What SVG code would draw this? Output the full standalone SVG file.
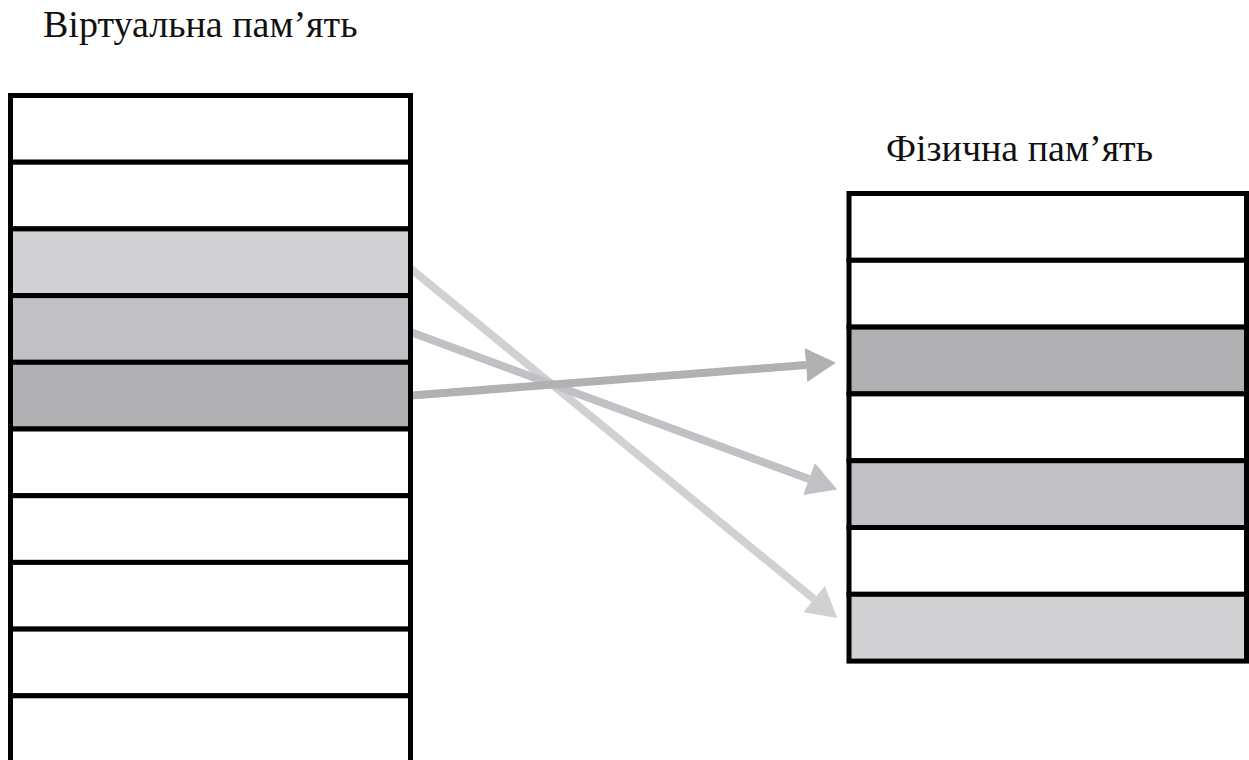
<svg xmlns="http://www.w3.org/2000/svg" width="1249" height="760" viewBox="0 0 1249 760">
  <style>
    .title { font-family: 'Liberation Serif', 'Times New Roman', 'DejaVu Serif', serif; font-size: 38px; fill: #111; }
    .cell { stroke: #000; stroke-width: 5; }
    .empty { fill: #fff; }
    .g1 { fill: #d1d1d3; }
    .g2 { fill: #c1c1c5; }
    .g3 { fill: #b1b1b3; }
    .link { fill: none; stroke-width: 8; stroke-linecap: butt; }
  </style>
  <defs>
    <marker id="headLight" markerUnits="userSpaceOnUse" markerWidth="30" markerHeight="34" refX="0" refY="17" orient="auto">
      <path d="M0,0 L30,17 L0,34 z" fill="#d1d1d3"/>
    </marker>
    <marker id="headMid" markerUnits="userSpaceOnUse" markerWidth="30" markerHeight="34" refX="0" refY="17" orient="auto">
      <path d="M0,0 L30,17 L0,34 z" fill="#c1c1c5"/>
    </marker>
    <marker id="headDark" markerUnits="userSpaceOnUse" markerWidth="30" markerHeight="34" refX="0" refY="17" orient="auto">
      <path d="M0,0 L30,17 L0,34 z" fill="#b1b1b3"/>
    </marker>
  </defs>

  <rect width="1249" height="760" fill="#fff"/>

  <g id="virtual-title">
    <text class="title" x="43" y="37">Віртуальна пам’ять</text>
  </g>
  <g id="physical-title">
    <text class="title" x="886" y="161">Фізична пам’ять</text>
  </g>

  <!-- page mappings: virtual page -> physical frame -->
  <g id="connectors">
    <line class="link" x1="405" y1="264" x2="814" y2="599" stroke="#d1d1d3" marker-end="url(#headLight)"/>
    <line class="link" x1="405" y1="330" x2="809" y2="479" stroke="#c1c1c5" marker-end="url(#headMid)"/>
    <line class="link" x1="405" y1="396" x2="806" y2="365" stroke="#b1b1b3" marker-end="url(#headDark)"/>
  </g>

  <!-- virtual memory: column of pages -->
  <g id="virtual-memory">
    <rect class="cell empty" x="10.5" y="95.5" width="400" height="66.7"/>
    <rect class="cell empty" x="10.5" y="162.2" width="400" height="66.7"/>
    <rect class="cell g1" x="10.5" y="228.9" width="400" height="66.7"/>
    <rect class="cell g2" x="10.5" y="295.6" width="400" height="66.7"/>
    <rect class="cell g3" x="10.5" y="362.3" width="400" height="66.7"/>
    <rect class="cell empty" x="10.5" y="429" width="400" height="66.7"/>
    <rect class="cell empty" x="10.5" y="495.7" width="400" height="66.7"/>
    <rect class="cell empty" x="10.5" y="562.4" width="400" height="66.7"/>
    <rect class="cell empty" x="10.5" y="629.1" width="400" height="66.7"/>
    <rect class="cell empty" x="10.5" y="695.8" width="400" height="66.7"/>
  </g>

  <!-- physical memory: column of frames -->
  <g id="physical-memory">
    <rect class="cell empty" x="849" y="193.5" width="397.5" height="66.8"/>
    <rect class="cell empty" x="849" y="260.3" width="397.5" height="66.8"/>
    <rect class="cell g3" x="849" y="327.1" width="397.5" height="66.8"/>
    <rect class="cell empty" x="849" y="393.9" width="397.5" height="66.8"/>
    <rect class="cell g2" x="849" y="460.7" width="397.5" height="66.8"/>
    <rect class="cell empty" x="849" y="527.5" width="397.5" height="66.8"/>
    <rect class="cell g1" x="849" y="594.3" width="397.5" height="66.8"/>
  </g>
</svg>
